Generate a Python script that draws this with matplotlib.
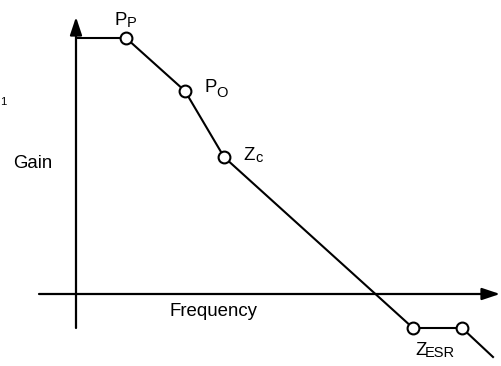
import matplotlib
matplotlib.use('Agg')
import matplotlib.pyplot as plt

plt.rcParams['font.family'] = ['Liberation Sans', 'DejaVu Sans']

# asymptotic gain curve (frequency / gain in drawing units, origin at axes crossing)
freq = [2, 50, 109, 148, 337, 386, 417]
gain = [256, 256, 203, 137, -34, -34, -63]
# indices of the break points that get a circle
breaks = [1, 2, 3, 4, 5]
break_names = [('P', 'P'), ('P', 'O'), ('Z', 'c'), ('Z', 'ESR')]

fig = plt.figure(figsize=(5.01, 3.66), dpi=100)
ax = fig.add_axes([0, 0, 1, 1])
ax.set_xlim(-76, 425)
ax.set_ylim(-72, 294)
ax.axis('off')

arrow = dict(arrowstyle='-|>,head_length=10.8,head_width=3.6', mutation_scale=1,
             lw=1.6, color='black', shrinkA=0, shrinkB=0)
ax.annotate('', xy=(0, 277), xytext=(0, -34), arrowprops=arrow)
ax.annotate('', xy=(424, 0), xytext=(-37, 0), arrowprops=arrow)

ax.plot(freq, gain, color='black', lw=1.5, zorder=3)
ax.plot([freq[i] for i in breaks], [gain[i] for i in breaks], 'o', ms=8.5,
        mfc='white', mec='black', mew=1.5, zorder=4)

main_fs = 13.4
sub_fs = 10.5
# label placement: (main x, main baseline, sub x, sub baseline)
label_pos = [(39, 269, 51, 267), (129, 202, 140, 197), (167, 134, 179, 132), (339, -61, 349, -63)]
for (m, s), (mx, my, sx, sy) in zip(break_names, label_pos):
    ax.text(mx, my, m, fontsize=main_fs, ha='left', va='baseline')
    ax.text(sx, sy, s, fontsize=sub_fs, ha='left', va='baseline')

ax.text(94, -22, 'Frequency', fontsize=main_fs, ha='left', va='baseline')
ax.text(-63, 126, 'Gain', fontsize=main_fs, ha='left', va='baseline')
ax.text(-75.5, 189, '1', fontsize=8, ha='left', va='baseline')

fig.savefig('out.png', dpi=100)
